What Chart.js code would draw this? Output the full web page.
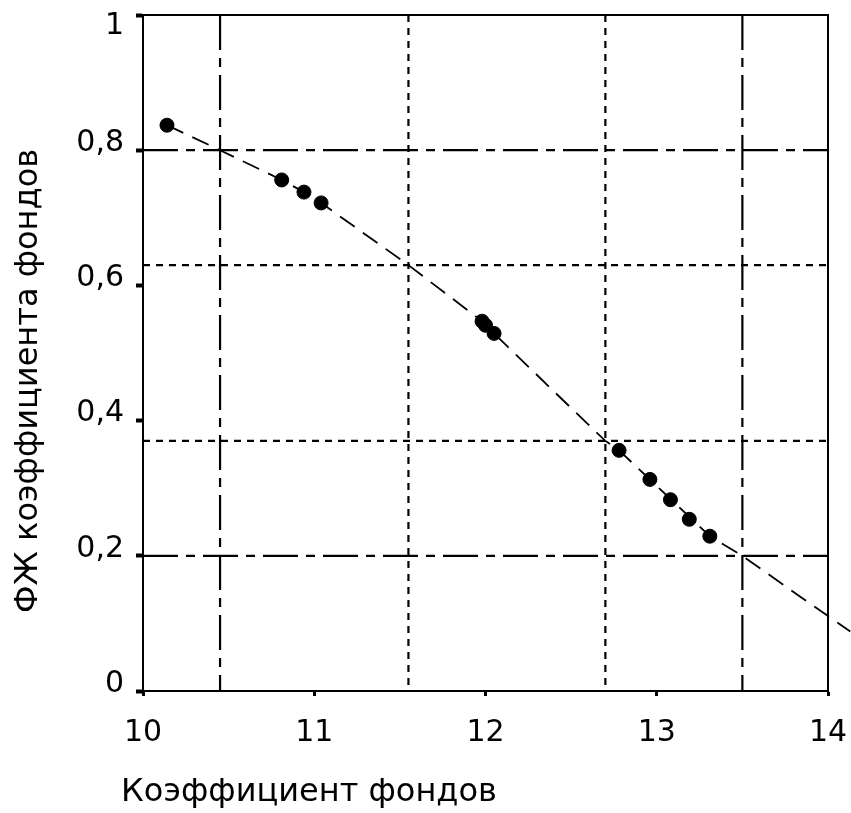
<!DOCTYPE html>
<html>
<head>
<meta charset="utf-8">
<script src="https://cdn.jsdelivr.net/npm/chart.js@4"></script>
<style>
  html, body { margin: 0; padding: 0; background: #fff; }
  #wrap { position: relative; width: 851px; height: 813px; }
</style>
</head>
<body>
<div id="wrap"><canvas id="c" width="851" height="813"></canvas></div>
<script>
// ФЖ коэффициента фондов vs Коэффициент фондов
// observed points, fitted dashed curve, and reference cross lines

const xTicks = [10, 11, 12, 13, 14];
const yTicks = [0, 0.2, 0.4, 0.6, 0.8, 1];
const yTickLabels = ['0', '0,2', '0,4', '0,6', '0,8', '1'];

const obsX = [10.14, 10.81, 10.94, 11.04, 11.98, 12.0, 12.05, 12.78, 12.96, 13.08, 13.19, 13.31];
const obsY = [0.837, 0.756, 0.738, 0.722, 0.547, 0.541, 0.529, 0.356, 0.313, 0.283, 0.254, 0.229];

const fitX = [10.14, 10.45, 10.81, 10.94, 11.04, 11.55, 11.98, 12.05, 12.49, 12.70, 12.78, 13.31, 13.50, 13.84, 14.13];
const fitY = [0.837, 0.800, 0.756, 0.738, 0.722, 0.630, 0.547, 0.529, 0.421, 0.370, 0.356, 0.229, 0.200, 0.139, 0.088];

const vDashDot = [10.45, 13.5];
const vDotted = [11.55, 12.7];
const hDashDot = [0.8, 0.2];
const hDotted = [0.63, 0.37];

const xTitle = 'Коэффициент фондов';
const yTitle = 'ФЖ коэффициента фондов';

const FONT = 'DejaVu Sans';
const DASH_DOT = [35, 8, 9, 8];
const DOTTED = [7, 6];

function pts(xs, ys) {
    return xs.map(function (x, i) { return { x: x, y: ys[i] }; });
}

function refLine(points, dash) {
    return {
        type: 'line',
        data: points,
        borderColor: '#000',
        borderWidth: 2.2,
        borderDash: dash,
        pointRadius: 0,
        fill: false,
        order: 2
    };
}

const refSets = [];
vDashDot.forEach(function (v) { refSets.push(refLine([{ x: v, y: 1 }, { x: v, y: 0 }], DASH_DOT)); });
vDotted.forEach(function (v) { refSets.push(refLine([{ x: v, y: 1 }, { x: v, y: 0 }], DOTTED)); });
hDashDot.forEach(function (v) { refSets.push(refLine([{ x: 10, y: v }, { x: 14, y: v }], DASH_DOT)); });
hDotted.forEach(function (v) { refSets.push(refLine([{ x: 10, y: v }, { x: 14, y: v }], DOTTED)); });

// frame round the plot plus the two free-standing axis titles
const framePlugin = {
    id: 'frame',
    afterDraw: function (chart) {
        const a = chart.chartArea;
        const ctx = chart.ctx;
        ctx.save();
        ctx.strokeStyle = '#000';
        ctx.lineWidth = 2;
        ctx.strokeRect(a.left, a.top, a.right - a.left, a.bottom - a.top);
        ctx.fillStyle = '#000';
        ctx.font = '32px "' + FONT + '"';
        ctx.textAlign = 'center';
        ctx.textBaseline = 'middle';
        ctx.fillText(xTitle, 309, 793);
        ctx.translate(29, 381);
        ctx.rotate(-Math.PI / 2);
        ctx.fillText(yTitle, 0, 0);
        ctx.restore();
    }
};

new Chart(document.getElementById('c').getContext('2d'), {
    type: 'scatter',
    data: {
        datasets: [
            {
                data: pts(obsX, obsY),
                backgroundColor: '#000',
                borderColor: '#000',
                pointRadius: 7,
                pointHoverRadius: 7,
                order: 0
            },
            {
                type: 'line',
                data: pts(fitX, fitY),
                borderColor: '#000',
                borderWidth: 1.8,
                borderDash: [18, 10],
                pointRadius: 0,
                tension: 0,
                fill: false,
                clip: false,
                order: 1
            }
        ].concat(refSets)
    },
    options: {
        responsive: false,
        animation: false,
        events: [],
        layout: { padding: { top: 15, right: 23, left: 0, bottom: 0 } },
        plugins: { legend: { display: false }, tooltip: { enabled: false } },
        scales: {
            x: {
                type: 'linear',
                min: 10, max: 14,
                afterFit: function (s) { s.height = 122; s.paddingLeft = 0; s.paddingRight = 0; },
                afterBuildTicks: function (s) { s.ticks = xTicks.map(function (v) { return { value: v }; }); },
                border: { display: true, color: '#000', width: 2 },
                grid: { drawOnChartArea: false, color: '#000', tickLength: 5, tickWidth: 3 },
                ticks: { color: '#000', font: { family: FONT, size: 30 }, padding: 19, maxRotation: 0 }
            },
            y: {
                type: 'linear',
                min: 0, max: 1,
                afterFit: function (s) { s.width = 143; s.paddingTop = 0; s.paddingBottom = 0; },
                afterBuildTicks: function (s) { s.ticks = yTicks.map(function (v) { return { value: v }; }); },
                border: { display: true, color: '#000', width: 2 },
                grid: { drawOnChartArea: false, color: '#000', tickLength: 7, tickWidth: 4 },
                ticks: {
                    color: '#000',
                    font: { family: FONT, size: 30 },
                    padding: 12,
                    labelOffset: -7,
                    callback: function (v) {
                        const i = yTicks.indexOf(v);
                        const t = i >= 0 ? yTickLabels[i] : '';
                        return v === 1 ? ['', t] : t;
                    }
                }
            }
        }
    },
    plugins: [framePlugin]
});
</script>
</body>
</html>
